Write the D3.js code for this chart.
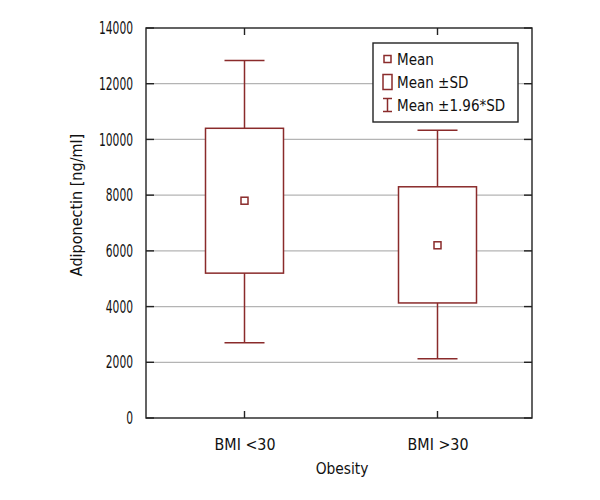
<!DOCTYPE html>
<meta charset="utf-8">
<style>
body { margin: 0; background: #fff; }
svg { font-family: "DejaVu Sans Condensed", "Liberation Sans Narrow", "DejaVu Sans", sans-serif; font-stretch: condensed; font-size: 16px; }
.grid line { stroke: #b4b4b4; stroke-width: 1.2; }
.frame { fill: none; stroke: #222; stroke-width: 1.4; }
.tick-in { stroke: #222; stroke-width: 1.4; }
.mark { stroke: #8a2b2b; stroke-width: 1.5; fill: #fff; }
</style>
<body>
<script src="https://d3js.org/d3.v7.min.js"></script>
<script>

// groups on the x axis
var groups = ["BMI <30", "BMI >30"];
// values (ng/ml)
var means    = [7800, 6200];
var sdLow    = [5200, 4130];
var sdHigh   = [10400, 8300];
var ciLow    = [2700, 2130];
var ciHigh   = [12830, 10330];
var yTicks   = [0, 2000, 4000, 6000, 8000, 10000, 12000, 14000];
var legendLabels = ["Mean", "Mean \u00B1SD", "Mean \u00B11.96*SD"];

var width = 600, height = 500;
var pLeft = 146, pRight = 532, pTop = 28, pBottom = 418;

// squeeze text sideways, the original uses a condensed face
function squeeze(sel, k) {
  sel.each(function() {
    var w = this.getComputedTextLength();
    d3.select(this).attr("textLength", w * k).attr("lengthAdjust", "spacingAndGlyphs");
  });
}
// numbers: fixed width per digit
function squeezeDigits(sel, perChar) {
  sel.each(function() {
    var n = this.textContent.length;
    d3.select(this).attr("textLength", n * perChar).attr("lengthAdjust", "spacingAndGlyphs");
  });
}

var svg = d3.select("body").append("svg")
    .attr("width", width)
    .attr("height", height);

var x = d3.scalePoint()
    .domain(groups)
    .range([pLeft + 2, pRight + 2])
    .padding(0.5);

var y = d3.scaleLinear()
    .domain([0, 14000])
    .range([pBottom, pTop]);

// gridlines
svg.append("g")
    .attr("class", "grid")
    .selectAll("line")
    .data(yTicks.slice(1, -1))
    .enter().append("line")
      .attr("x1", pLeft).attr("x2", pRight)
      .attr("y1", function(d) { return y(d); })
      .attr("y2", function(d) { return y(d); });

// axis labels (ticks drawn inward below)
var yAxis = svg.append("g")
    .attr("transform", "translate(" + pLeft + ",0)")
    .call(d3.axisLeft(y).tickValues(yTicks).tickFormat(d3.format("d")).tickSize(0).tickPadding(13))
    .attr("font-family", null).attr("font-size", null);
yAxis.select(".domain").remove();
yAxis.selectAll("text").attr("fill", "#111").style("font-size", "17.5px").call(squeezeDigits, 6.8);

var xAxis = svg.append("g")
    .attr("transform", "translate(0," + pBottom + ")")
    .call(d3.axisBottom(x).tickSize(0).tickPadding(20))
    .attr("font-family", null).attr("font-size", null);
xAxis.select(".domain").remove();
xAxis.selectAll("text").attr("fill", "#111").style("font-size", "16.5px").call(squeeze, 0.96);

// boxes and whiskers
var g = svg.append("g");
groups.forEach(function(grp, i) {
  var cx = x(grp);
  g.append("line").attr("class", "mark")
      .attr("x1", cx).attr("x2", cx)
      .attr("y1", y(ciLow[i])).attr("y2", y(ciHigh[i]));
  [ciLow[i], ciHigh[i]].forEach(function(v) {
    g.append("line").attr("class", "mark")
        .attr("x1", cx - 20).attr("x2", cx + 20)
        .attr("y1", y(v)).attr("y2", y(v));
  });
  g.append("rect").attr("class", "mark")
      .attr("x", cx - 39).attr("width", 78)
      .attr("y", y(sdHigh[i]))
      .attr("height", y(sdLow[i]) - y(sdHigh[i]));
  g.append("rect").attr("class", "mark")
      .attr("x", cx - 3.5).attr("y", y(means[i]) - 3.5)
      .attr("width", 7).attr("height", 7);
});

// inward ticks on all four sides
var tk = svg.append("g");
yTicks.forEach(function(v) {
  tk.append("line").attr("class", "tick-in")
      .attr("x1", pLeft).attr("x2", pLeft + 8)
      .attr("y1", y(v)).attr("y2", y(v));
  tk.append("line").attr("class", "tick-in")
      .attr("x1", pRight - 8).attr("x2", pRight)
      .attr("y1", y(v)).attr("y2", y(v));
});
groups.forEach(function(grp) {
  tk.append("line").attr("class", "tick-in")
      .attr("x1", x(grp)).attr("x2", x(grp))
      .attr("y1", pBottom).attr("y2", pBottom - 7);
  tk.append("line").attr("class", "tick-in")
      .attr("x1", x(grp)).attr("x2", x(grp))
      .attr("y1", pTop).attr("y2", pTop + 7);
});

svg.append("rect").attr("class", "frame")
    .attr("x", pLeft).attr("y", pTop)
    .attr("width", pRight - pLeft).attr("height", pBottom - pTop);

// axis titles
svg.append("text")
    .attr("x", (pLeft + pRight) / 2 + 3)
    .attr("y", 474)
    .attr("text-anchor", "middle")
    .attr("fill", "#111")
    .style("font-size", "16.5px")
    .text("Obesity")
    .call(squeeze, 0.93);

svg.append("text")
    .attr("transform", "translate(82,205) rotate(-90)")
    .attr("text-anchor", "middle")
    .attr("fill", "#111")
    .style("font-size", "16.5px")
    .text("Adiponectin [ng/ml]")
    .call(squeeze, 0.97);

// legend
var lg = svg.append("g").attr("transform", "translate(373,43)");
lg.append("rect")
    .attr("width", 145).attr("height", 79)
    .attr("fill", "#fff").attr("stroke", "#222").attr("stroke-width", 1.4);

var rows = lg.selectAll("g.row")
    .data(legendLabels)
    .enter().append("g")
      .attr("class", "row")
      .attr("transform", function(d, i) { return "translate(0," + (16 + i * 23) + ")"; });

rows.append("text")
    .attr("x", 24).attr("dy", "0.35em")
    .attr("fill", "#111")
    .style("font-size", "16.5px")
    .text(function(d) { return d; })
    .call(squeeze, 0.91);

rows.each(function(d, i) {
  var r = d3.select(this);
  if (i === 0) {
    r.append("rect").attr("class", "mark")
        .attr("x", 11).attr("y", -3.5).attr("width", 7).attr("height", 7);
  } else if (i === 1) {
    r.append("rect").attr("class", "mark")
        .attr("x", 10).attr("y", -7.5).attr("width", 9).attr("height", 15);
  } else {
    r.append("line").attr("class", "mark").attr("x1", 14.5).attr("x2", 14.5).attr("y1", -6.5).attr("y2", 6.5);
    r.append("line").attr("class", "mark").attr("x1", 10).attr("x2", 19).attr("y1", -6.5).attr("y2", -6.5);
    r.append("line").attr("class", "mark").attr("x1", 10).attr("x2", 19).attr("y1", 6.5).attr("y2", 6.5);
  }
});

</script>
</body>
